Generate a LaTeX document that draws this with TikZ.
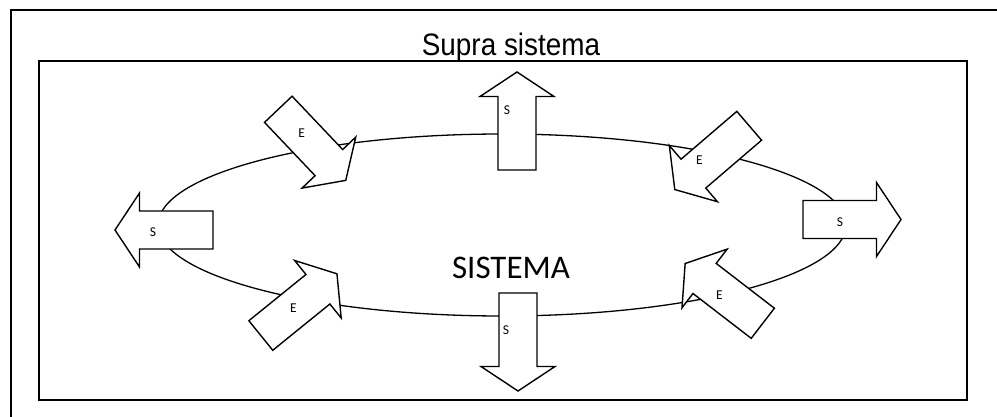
\documentclass[tikz,border=0pt]{standalone}
\usepackage{fontspec}
\setmainfont{Liberation Sans}
\newfontfamily\calib{Carlito}
\tikzset{
  boxline/.style={line width=1.8pt},
  ringline/.style={line width=1.3pt},
  arrowbody/.style={draw=black, fill=white, line width=1.4pt, line join=miter},
  blockarrow/.pic={\path[arrowbody] (0,-19) -- (73.5,-19) -- (73.5,-37) -- (98,0) -- (73.5,37) -- (73.5,19) -- (0,19) -- cycle;},
  smalllabel/.style={font=\calib\fontsize{13.5}{15}\selectfont, inner sep=0pt},
}
\begin{document}
\begin{tikzpicture}[x=1pt,y=-1pt]
\useasboundingbox (0,0) rectangle (997,417);
\fill[white] (0,0) rectangle (997,417);
% outer frame (supra sistema)
\draw[boxline] (11,420) -- (11,10) -- (1000,10);
\node[font=\fontsize{31}{34}\selectfont, anchor=base, inner sep=0pt, xscale=0.9] (supra) at (511,56) {Supra sistema};
% inner frame
\draw[boxline] (39,61) rectangle (967,400);
% system ellipse
\draw[ringline] (502,225) ellipse [x radius=344, y radius=91];
\node[font=\calib\fontsize{33}{36}\selectfont, anchor=base, inner sep=0pt] (sistema) at (511,278) {SISTEMA};
% outputs
\pic[rotate=90] at (517,170) {blockarrow};
\pic[rotate=-90] at (518,293) {blockarrow};
\pic[rotate=180] at (213,230) {blockarrow};
\pic at (803,219.5) {blockarrow};
% inputs
\pic[rotate=-46.5] at (278.3,109.3) {blockarrow};
\pic[rotate=-139.4] at (749.2,125.8) {blockarrow};
\pic[rotate=39] at (260.8,335.5) {blockarrow};
\pic[rotate=142.4] at (762.8,323.3) {blockarrow};
% labels
\node[smalllabel] (s1) at (507,110) {S};
\node[smalllabel] (s2) at (506,330) {S};
\node[smalllabel] (s3) at (153,232) {S};
\node[smalllabel] (s4) at (840,222) {S};
\node[smalllabel] (e1) at (301.7,133.3) {E};
\node[smalllabel] (e2) at (699.3,160) {E};
\node[smalllabel] (e3) at (293.3,308.3) {E};
\node[smalllabel] (e4) at (719.3,295) {E};
\end{tikzpicture}
\end{document}
